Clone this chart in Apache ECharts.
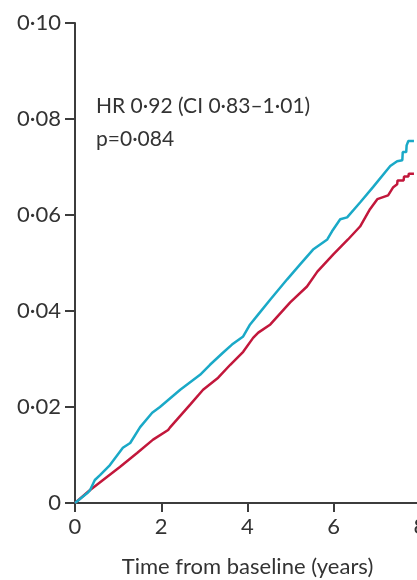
<!DOCTYPE html>
<html>
<head>
<meta charset="utf-8">
<script src="https://cdn.jsdelivr.net/npm/echarts@6/dist/echarts.min.js"></script>
<style>
  html, body { margin: 0; padding: 0; background: #fff; }
  #chart { width: 417px; height: 580px; }
</style>
</head>
<body>
<div id="chart"></div>
<script>
// cumulative incidence: [years, proportion]
const blueCurve = [
  [0, 0], [0.3, 0.0022], [0.35, 0.0027], [0.46, 0.0048], [0.58, 0.0058], [0.81, 0.0079],
  [1.11, 0.0115], [1.28, 0.0125], [1.51, 0.0158], [1.79, 0.0188], [1.97, 0.0200],
  [2.44, 0.0236], [2.90, 0.0267], [3.13, 0.0288], [3.43, 0.0313], [3.64, 0.0330],
  [3.90, 0.0347], [4.06, 0.0372], [4.25, 0.0393], [4.53, 0.0424], [4.92, 0.0466],
  [5.22, 0.0497], [5.52, 0.0528], [5.85, 0.0549], [5.96, 0.0566], [6.15, 0.0591],
  [6.31, 0.0595], [6.61, 0.0626], [6.91, 0.0658], [7.31, 0.0702], [7.47, 0.0712],
  [7.59, 0.0714], [7.60, 0.0731], [7.68, 0.0731], [7.69, 0.0745], [7.72, 0.0745],
  [7.73, 0.0754], [7.86, 0.0754]
];
const redCurve = [
  [0, 0], [0.35, 0.0027], [0.65, 0.0048], [1.04, 0.0075], [1.44, 0.0104], [1.81, 0.0132],
  [2.16, 0.0152], [2.20, 0.0157], [2.67, 0.0205], [2.97, 0.0236], [3.32, 0.0261],
  [3.60, 0.0288], [3.90, 0.0315], [4.13, 0.0344], [4.25, 0.0355], [4.53, 0.0372],
  [4.99, 0.0418], [5.38, 0.0451], [5.62, 0.0482], [5.99, 0.0518], [6.33, 0.0549],
  [6.61, 0.0576], [6.84, 0.0612], [7.01, 0.0633], [7.26, 0.0641], [7.38, 0.0658],
  [7.47, 0.0664], [7.48, 0.0672], [7.62, 0.0672], [7.63, 0.0680], [7.73, 0.0680],
  [7.74, 0.0686], [7.86, 0.0686]
];
const xTicks = [0, 2, 4, 6, 8];
const yTicks = [0, 0.02, 0.04, 0.06, 0.08, 0.10];
const statLines = ["HR 0·92 (CI 0·83–1·01)", "p=0·084"];

const chart = echarts.init(document.getElementById("chart"));
const axisColor = "#3c3c3c";
const textColor = "#333";
const font = "Lato, 'Open Sans', sans-serif";

const fmtY = v => (v === 0 ? "0" : v.toFixed(2).replace(".", "·"));

chart.setOption({
  animation: false,
  grid: { left: 75, top: 23, right: -3, bottom: 77, outerBoundsMode: "none", containLabel: false },
  xAxis: {
    type: "value",
    min: xTicks[0],
    max: xTicks[xTicks.length - 1],
    interval: 2,
    name: "Time from baseline (years)",
    nameLocation: "middle",
    nameGap: 53,
    nameTextStyle: { fontSize: 22, color: textColor, fontFamily: font },
    axisLine: { lineStyle: { color: axisColor, width: 2 } },
    axisTick: { length: 9, lineStyle: { color: axisColor, width: 2 } },
    axisLabel: { fontSize: 22, color: textColor, fontFamily: font, margin: 13, hideOverlap: false },
    splitLine: { show: false }
  },
  yAxis: {
    type: "value",
    min: yTicks[0],
    max: yTicks[yTicks.length - 1],
    interval: 0.02,
    axisLine: { show: true, lineStyle: { color: axisColor, width: 2 } },
    axisTick: { show: true, length: 10, lineStyle: { color: axisColor, width: 2 } },
    axisLabel: { fontSize: 22, color: textColor, fontFamily: font, margin: 14, formatter: fmtY },
    splitLine: { show: false }
  },
  graphic: [
    {
      type: "text", left: 96, top: 96,
      style: { text: statLines[0], fontSize: 21, fill: textColor, fontFamily: font }
    },
    {
      type: "text", left: 96, top: 129,
      style: { text: statLines[1], fontSize: 21, fill: textColor, fontFamily: font }
    }
  ],
  series: [
    {
      name: "red",
      type: "line",
      showSymbol: false,
      data: redCurve,
      lineStyle: { color: "#c2173b", width: 2.5 },
      z: 3
    },
    {
      name: "blue",
      type: "line",
      showSymbol: false,
      data: blueCurve,
      lineStyle: { color: "#1aa9c7", width: 2.5 },
      z: 4
    }
  ]
});
</script>
</body>
</html>
